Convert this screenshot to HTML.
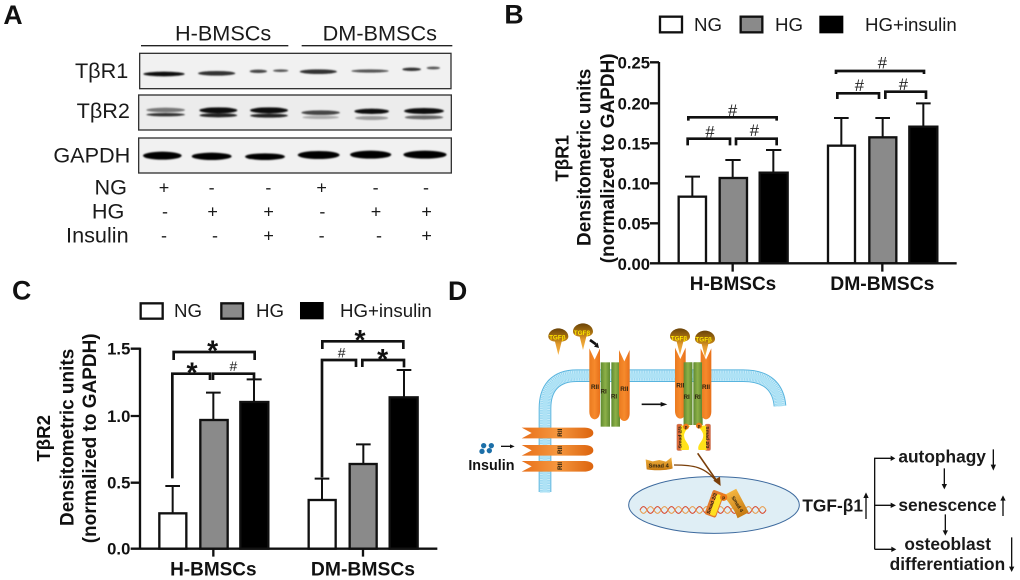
<!DOCTYPE html>
<html><head><meta charset="utf-8">
<style>
html,body{margin:0;padding:0;background:#fff;width:1020px;height:580px;overflow:hidden}
svg{display:block}
text{font-family:"Liberation Sans",sans-serif;fill:#111}
.b{font-weight:bold}
.m{text-anchor:middle}
.e{text-anchor:end}
.l{font-size:65px;fill:#1a1a1a}
.s{font-size:54px;text-anchor:middle;fill:#1a1a1a}
.tk{font-size:50px;font-weight:bold;text-anchor:end}
.lg{font-size:56px;fill:#1a1a1a}
.ax{font-size:57px;font-weight:bold;text-anchor:middle}
.h{font-size:50px;text-anchor:middle;fill:#222}
.st{font-size:85px;font-weight:bold;text-anchor:middle}
.d{font-size:52px;font-weight:bold;fill:#1a1a1a}
.y{font-size:19px;font-weight:bold;fill:#ffe600;text-anchor:middle}
.r{font-size:19px;font-weight:bold;fill:#2e2410;text-anchor:middle}
</style></head><body>
<svg width="1020" height="580" viewBox="0 0 1020 580" xmlns="http://www.w3.org/2000/svg">
<defs>
<filter id="bl2" x="-20%" y="-100%" width="140%" height="300%"><feGaussianBlur stdDeviation="2.4"/></filter>
<linearGradient id="o" x1="0" x2="1" y1="0" y2="0"><stop offset="0" stop-color="#ea7a1f"/><stop offset=".5" stop-color="#f68a2c"/><stop offset="1" stop-color="#e8701a"/></linearGradient>
<linearGradient id="oh" x1="0" x2="1" y1="0" y2="0"><stop offset="0" stop-color="#e8701a"/><stop offset=".5" stop-color="#f5973f"/><stop offset="1" stop-color="#dc640e"/></linearGradient>
<linearGradient id="g" x1="0" x2="1" y1="0" y2="0"><stop offset="0" stop-color="#5f8a30"/><stop offset=".5" stop-color="#8db048"/><stop offset="1" stop-color="#5f8a30"/></linearGradient>
<linearGradient id="t" x1="0" x2="0" y1="0" y2="1"><stop offset="0" stop-color="#6a4308"/><stop offset=".4" stop-color="#b47a12"/><stop offset=".6" stop-color="#e29a2c"/><stop offset="1" stop-color="#f9b545"/></linearGradient>
<linearGradient id="sm" x1="0" x2="0" y1="0" y2="1"><stop offset="0" stop-color="#f3b440"/><stop offset="1" stop-color="#c67a12"/></linearGradient>
<path id="tg" d="M-30,0C-30,-15 -15,-25 0,-25C15,-25 30,-15 30,0C30,10 18,15 10,15L0,55L-10,15C-18,15 -30,10 -30,0Z" fill="url(#t)"/>
<path id="rv" d="M0,0L16,34L32,0L32,190C32,205 24,213 16,213C8,213 0,205 0,190Z" fill="url(#o)"/>
<path id="rh" d="M215,443L400,443C425,443 430,452 430,459C430,468 420,475 400,475L215,475L245,459Z" fill="url(#oh)"/>
<g id="smd"><rect x="680" y="432" width="17" height="80" rx="5" fill="#d9693a" stroke="#caa" stroke-width="1"/><path d="M692,437L722,437C706,450 700,462 703,472C705,485 722,495 716,510L692,510Z" fill="#ffe21a"/></g>
</defs>
<rect width="1020" height="580" fill="#fff"/>

<!-- PANEL A -->
<g transform="scale(.33333)">
<text class="b" x="10" y="72" style="font-size:80px">A</text>
<text class="l" x="525" y="122">H-BMSCs</text>
<text class="l" x="968" y="122">DM-BMSCs</text>
<path d="M423,137H865M905,137H1357" stroke="#222" stroke-width="4" fill="none"/>
<rect x="419" y="160" width="934" height="106" fill="#f1f1f1" stroke="#333" stroke-width="4"/>
<rect x="416" y="285" width="938" height="105" fill="#ececec" stroke="#333" stroke-width="4"/>
<rect x="416" y="414" width="938" height="105" fill="#f1f1f1" stroke="#333" stroke-width="4"/>
<g fill="#111" filter="url(#bl2)">
<ellipse cx="492" cy="222" rx="62" ry="7"/><ellipse cx="650" cy="220" rx="56" ry="7" fill="#333"/><ellipse cx="775" cy="214" rx="26" ry="5" fill="#444"/><ellipse cx="842" cy="212" rx="23" ry="4" fill="#555"/><ellipse cx="955" cy="215" rx="56" ry="7" fill="#333"/><ellipse cx="1110" cy="213" rx="56" ry="5" fill="#555"/><ellipse cx="1235" cy="208" rx="28" ry="5" fill="#333"/><ellipse cx="1300" cy="204" rx="20" ry="4" fill="#555"/>
<ellipse cx="497" cy="330" rx="58" ry="7" fill="#777"/><ellipse cx="497" cy="344" rx="58" ry="5" fill="#333"/>
<ellipse cx="655" cy="331" rx="57" ry="9"/><ellipse cx="655" cy="346" rx="57" ry="6" fill="#222"/>
<ellipse cx="807" cy="331" rx="57" ry="9"/><ellipse cx="807" cy="347" rx="57" ry="6" fill="#222"/>
<ellipse cx="962" cy="338" rx="58" ry="7" fill="#444"/><ellipse cx="962" cy="352" rx="55" ry="5" fill="#aaa"/>
<ellipse cx="1115" cy="334" rx="52" ry="8" fill="#111"/><ellipse cx="1115" cy="354" rx="50" ry="6" fill="#999"/>
<ellipse cx="1272" cy="333" rx="60" ry="9"/><ellipse cx="1272" cy="352" rx="58" ry="6" fill="#666"/>
</g>
<g fill="#050505" filter="url(#bl2)">
<ellipse cx="487" cy="467" rx="58" ry="12"/><ellipse cx="635" cy="469" rx="60" ry="11"/><ellipse cx="795" cy="470" rx="60" ry="10"/><ellipse cx="956" cy="465" rx="63" ry="12"/><ellipse cx="1112" cy="464" rx="62" ry="12"/><ellipse cx="1275" cy="464" rx="65" ry="12"/>
</g>
<text class="l e" x="385" y="234">TβR1</text>
<text class="l e" x="390" y="354">TβR2</text>
<text class="l e" x="391" y="488">GAPDH</text>
<text class="l e" x="381" y="584">NG</text>
<text class="l e" x="373" y="656">HG</text>
<text class="l e" x="386" y="727">Insulin</text>
<g>
<text class="s" x="492" y="580">+</text><text class="s" x="635" y="580">-</text><text class="s" x="805" y="580">-</text><text class="s" x="965" y="580">+</text><text class="s" x="1127" y="580">-</text><text class="s" x="1278" y="580">-</text>
<text class="s" x="495" y="653">-</text><text class="s" x="638" y="653">+</text><text class="s" x="806" y="653">+</text><text class="s" x="967" y="653">-</text><text class="s" x="1128" y="653">+</text><text class="s" x="1280" y="653">+</text>
<text class="s" x="492" y="724">-</text><text class="s" x="645" y="724">-</text><text class="s" x="806" y="724">+</text><text class="s" x="965" y="724">-</text><text class="s" x="1137" y="724">-</text><text class="s" x="1280" y="724">+</text>
</g>
</g>

<!-- PANEL B -->
<g transform="translate(500,0) scale(.33333)">
<text class="b" x="13" y="70" style="font-size:80px">B</text>
<rect x="480" y="50" width="66" height="47" fill="#fff" stroke="#111" stroke-width="7"/>
<rect x="722" y="50" width="65" height="47" fill="#8a8a8a" stroke="#111" stroke-width="7"/>
<rect x="958" y="47" width="72" height="53" fill="#000"/>
<text class="lg" x="582" y="93">NG</text><text class="lg" x="825" y="93">HG</text><text class="lg" x="1095" y="93">HG+insulin</text>
<g fill="none" stroke="#111" stroke-width="7">
<path d="M577,590V530M555,530H600M698,534V480M676,480H722M820,518V450M798,450H844M1024,437V354M1002,354H1046M1148,412V354M1126,354H1170M1270,380V310M1248,310H1292" stroke-width="6"/>
<rect x="536" y="590" width="82" height="200" fill="#fff"/>
<rect x="659" y="534" width="82" height="256" fill="#8a8a8a"/>
<rect x="779" y="518" width="84" height="272" fill="#000"/>
<rect x="984" y="437" width="81" height="353" fill="#fff"/>
<rect x="1108" y="412" width="81" height="378" fill="#8a8a8a"/>
<rect x="1228" y="380" width="84" height="410" fill="#000"/>
<path d="M477,186V793M450,790H1370M450,187H477M450,310H477M450,430H477M450,550H477M450,670H477M698,790V815M1147,790V815"/>
<path d="M565,362V352H830V362M563,436V416H690V436M708,436V416H830V436M1008,222V213H1272V222M1012,297V280H1137V297M1156,297V275H1278V297" stroke-width="8"/>
</g>
<g>
<text class="tk" x="450" y="205">0.25</text><text class="tk" x="450" y="328">0.20</text><text class="tk" x="450" y="448">0.15</text><text class="tk" x="450" y="568">0.10</text><text class="tk" x="450" y="688">0.05</text><text class="tk" x="450" y="810">0.00</text>
</g>
<text class="ax" transform="translate(206,475) rotate(-90)" style="font-size:56px">TβR1</text>
<text class="ax" transform="translate(272,472) rotate(-90)">Densitometric units</text>
<text class="ax" transform="translate(342,475) rotate(-90)">(normalized to GAPDH)</text>
<text class="ax" x="699" y="870">H-BMSCs</text>
<text class="ax" x="1147" y="870" style="font-size:58px">DM-BMSCs</text>
<text class="h" x="698" y="348">#</text><text class="h" x="630" y="413">#</text><text class="h" x="763" y="408">#</text><text class="h" x="1147" y="206">#</text><text class="h" x="1078" y="273">#</text><text class="h" x="1210" y="270">#</text>
</g>

<!-- PANEL C -->
<g transform="translate(0,270) scale(.33333)">
<text class="b" x="36" y="88" style="font-size:80px">C</text>
<rect x="422" y="100" width="66" height="46" fill="#fff" stroke="#111" stroke-width="7"/>
<rect x="664" y="100" width="65" height="46" fill="#8a8a8a" stroke="#111" stroke-width="7"/>
<rect x="900" y="96" width="71" height="52" fill="#000"/>
<text class="lg" x="522" y="141">NG</text><text class="lg" x="768" y="141">HG</text><text class="lg" x="1020" y="141">HG+insulin</text>
<g fill="none" stroke="#111" stroke-width="7">
<path d="M518,730V648M496,648H540M640,450V368M618,368H662M762,396V328M740,328H785M966,690V626M944,626H988M1090,582V523M1068,523H1112M1212,382V300M1190,300H1234" stroke-width="6"/>
<rect x="478" y="730" width="81" height="106" fill="#fff"/>
<rect x="601" y="450" width="82" height="386" fill="#8a8a8a"/>
<rect x="721" y="396" width="84" height="440" fill="#000"/>
<rect x="926" y="690" width="81" height="146" fill="#fff"/>
<rect x="1049" y="582" width="81" height="254" fill="#8a8a8a"/>
<rect x="1169" y="382" width="84" height="454" fill="#000"/>
<path d="M420,233V839M392,836H1312M392,236H420M392,438H420M392,638H420M640,836V860M1089,836V860"/>
<path d="M521,270V246H764V270M517,625V311H630V330M639,330V311H762V330M967,237V214H1210V237M966,622V270H1068V291M1087,291V270H1212V292" stroke-width="8"/>
</g>
<text class="tk" x="391" y="254">1.5</text><text class="tk" x="391" y="456">1.0</text><text class="tk" x="391" y="656">0.5</text><text class="tk" x="391" y="854">0.0</text>
<text class="ax" transform="translate(150,505) rotate(-90)" style="font-size:56px">TβR2</text>
<text class="ax" transform="translate(220,502) rotate(-90)">Densitometric units</text>
<text class="ax" transform="translate(288,505) rotate(-90)">(normalized to GAPDH)</text>
<text class="ax" x="640" y="916">H-BMSCs</text>
<text class="ax" x="1089" y="916" style="font-size:58px">DM-BMSCs</text>
<text class="st" x="638" y="272">*</text><text class="st" x="576" y="337">*</text><text class="h" x="700" y="303" style="font-size:42px">#</text>
<text class="st" x="1080" y="240">*</text><text class="h" x="1025" y="263" style="font-size:42px">#</text><text class="st" x="1148" y="297">*</text>
</g>

<!-- PANEL D -->
<g transform="translate(450,280) scale(.33333)">
<text class="b" x="-6" y="60" style="font-size:80px">D</text>
<path d="M285,636V385C285,320 320,287 380,287H880C950,287 985,320 990,378" fill="none" stroke="#58b4de" stroke-width="38"/>
<path d="M285,637V385C285,320 320,287 380,287H880C950,287 985,320 990,379" fill="none" stroke="#c9ecf9" stroke-width="32"/>
<path d="M285,637V385C285,320 320,287 380,287H880C950,287 985,320 990,379" fill="none" stroke="#86d0ee" stroke-width="30" stroke-dasharray="2 3"/>
<path d="M285,637V385C285,320 320,287 380,287H880C950,287 985,320 990,379" fill="none" stroke="#aee2f5" stroke-width="14"/>

<use href="#tg" x="325" y="170"/><use href="#tg" x="399" y="155"/>
<use href="#rh"/><use href="#rh" y="52"/><use href="#rh" y="100"/>
<text class="r" transform="translate(336,458) rotate(-90)">RII</text><text class="r" transform="translate(336,510) rotate(-90)">RII</text><text class="r" transform="translate(336,558) rotate(-90)">RII</text>

<rect x="452" y="247" width="28" height="193" fill="url(#g)"/><rect x="484" y="247" width="26" height="193" fill="url(#g)"/>
<use href="#rv" x="418" y="205"/><use href="#rv" x="507" y="210"/>
<rect x="701" y="247" width="26" height="188" fill="url(#g)"/><rect x="732" y="247" width="26" height="188" fill="url(#g)"/>
<use href="#rv" x="675" y="203"/><use href="#rv" x="752" y="205"/>
<rect x="701" y="247" width="26" height="188" fill="url(#g)"/><rect x="730" y="247" width="26" height="188" fill="url(#g)"/>
<use href="#tg" x="690" y="170"/><use href="#tg" x="765" y="177"/>
<text class="y" x="322" y="178">TGFβ</text><text class="y" x="396" y="165">TGFβ</text><text class="y" x="687" y="181">TGFβ</text><text class="y" x="761" y="185">TGFβ</text>
<text class="r" x="435" y="327">RII</text><text class="r" x="461" y="340">RI</text><text class="r" x="492" y="356">RI</text><text class="r" x="523" y="333">RII</text>
<text class="r" x="691" y="323">RII</text><text class="r" x="710" y="357">RI</text><text class="r" x="743" y="357">RI</text><text class="r" x="768" y="327">RII</text>

<use href="#smd"/><use href="#smd" transform="translate(1462,0) scale(-1,1)"/>
<circle cx="708" cy="440" r="9" fill="#ee7a18"/><circle cx="747" cy="437" r="9" fill="#ee7a18"/>
<text class="r" x="708" y="445" style="font-size:14px">p</text><text class="r" x="747" y="442" style="font-size:14px">p</text>
<text class="r" transform="translate(694,472) rotate(-90)" style="font-size:15px">Smad 2/3</text>
<text class="r" transform="translate(768,472) rotate(90)" style="font-size:15px">Smad 2/3</text>

<g fill="#1c6fa8"><circle cx="101" cy="497" r="8"/><circle cx="124" cy="497" r="8"/><circle cx="96" cy="514" r="8"/><circle cx="118" cy="512" r="8"/></g>
<path d="M153,499H182" stroke="#111" stroke-width="4"/><path d="M180,493L194,499L180,505Z" fill="#111"/>
<text class="b" x="55" y="570" style="font-size:43px">Insulin</text>
<path d="M575,373H635" stroke="#111" stroke-width="5"/><path d="M632,366L652,373L632,380Z" fill="#111"/>
<path d="M420,180L438,193" stroke="#111" stroke-width="8"/><path d="M432,200L447,204L443,188Z" fill="#111"/>

<ellipse cx="792" cy="675" rx="256" ry="85" fill="#dfeef5" stroke="#3d6a9e" stroke-width="3"/>
<path d="M570,690q10.500,-20 21,0t21,0t21,0t21,0t21,0t21,0t21,0t21,0t21,0t21,0t21,0t21,0t21,0t21,0t21,0t21,0t21,0t21,0" fill="none" stroke="#d8452a" stroke-width="3"/>
<path d="M570,690q10.500,20 21,0t21,0t21,0t21,0t21,0t21,0t21,0t21,0t21,0t21,0t21,0t21,0t21,0t21,0t21,0t21,0t21,0t21,0" fill="none" stroke="#e89a4a" stroke-width="3"/>

<path d="M587,538L608,544L628,540L648,545L664,532L668,565C650,572 610,572 590,568Z" fill="url(#sm)"/>
<text class="r" x="626" y="562" style="font-size:17px">Smad 4</text>
<path d="M672,555C730,555 765,560 800,605" fill="none" stroke="#7a3f0a" stroke-width="4"/>
<path d="M743,520L802,605" fill="none" stroke="#7a3f0a" stroke-width="5"/>
<path d="M790,604L810,592L812,620Z" fill="#7a3f0a" transform="translate(0,-2)"/>

<g transform="rotate(20 792 672)"><rect x="775" y="632" width="36" height="78" rx="6" fill="#e27a2c"/><rect x="790" y="640" width="18" height="66" rx="6" fill="#ffdf20"/></g>
<g transform="rotate(-28 858 672)"><path d="M836,632L880,632L880,712L842,712C846,690 842,660 836,632Z" fill="url(#sm)"/></g>
<circle cx="821" cy="652" r="11" fill="#ee7a18"/>
<text class="r" x="821" y="657" style="font-size:14px">p</text>
<text class="r" transform="translate(790,672) rotate(-70)" style="font-size:15px">Smad 2/3</text>
<text class="r" transform="translate(858,675) rotate(58)" style="font-size:15px">Smad 4</text>
</g>

<!-- PANEL D right -->
<g transform="translate(790,420) scale(.33333)">
<text class="d" x="325" y="128">autophagy</text>
<text class="d" x="37" y="275">TGF-β1</text>
<text class="d" x="325" y="273">senescence</text>
<text class="d" x="343" y="390">osteoblast</text>
<text class="d" x="299" y="450">differentiation</text>
<g stroke="#111" stroke-width="4" fill="none">
<path d="M254,388V115H305M254,256H305M254,388H305"/>
<path d="M610,88V138M463,145V196M228,232V297M639,240V288M466,283V335M665,352V444"/>
</g>
<g fill="#111">
<path d="M302,107L316,115L302,123ZM302,248L318,256L302,264ZM304,380L319,388L304,396Z"/>
<path d="M602,134H618L610,152ZM455,192H471L463,208ZM220,234H236L228,217ZM631,242H647L639,226ZM458,331H474L466,347ZM657,440H673L665,456Z"/>
</g>
</g>
</svg>
</body></html>
